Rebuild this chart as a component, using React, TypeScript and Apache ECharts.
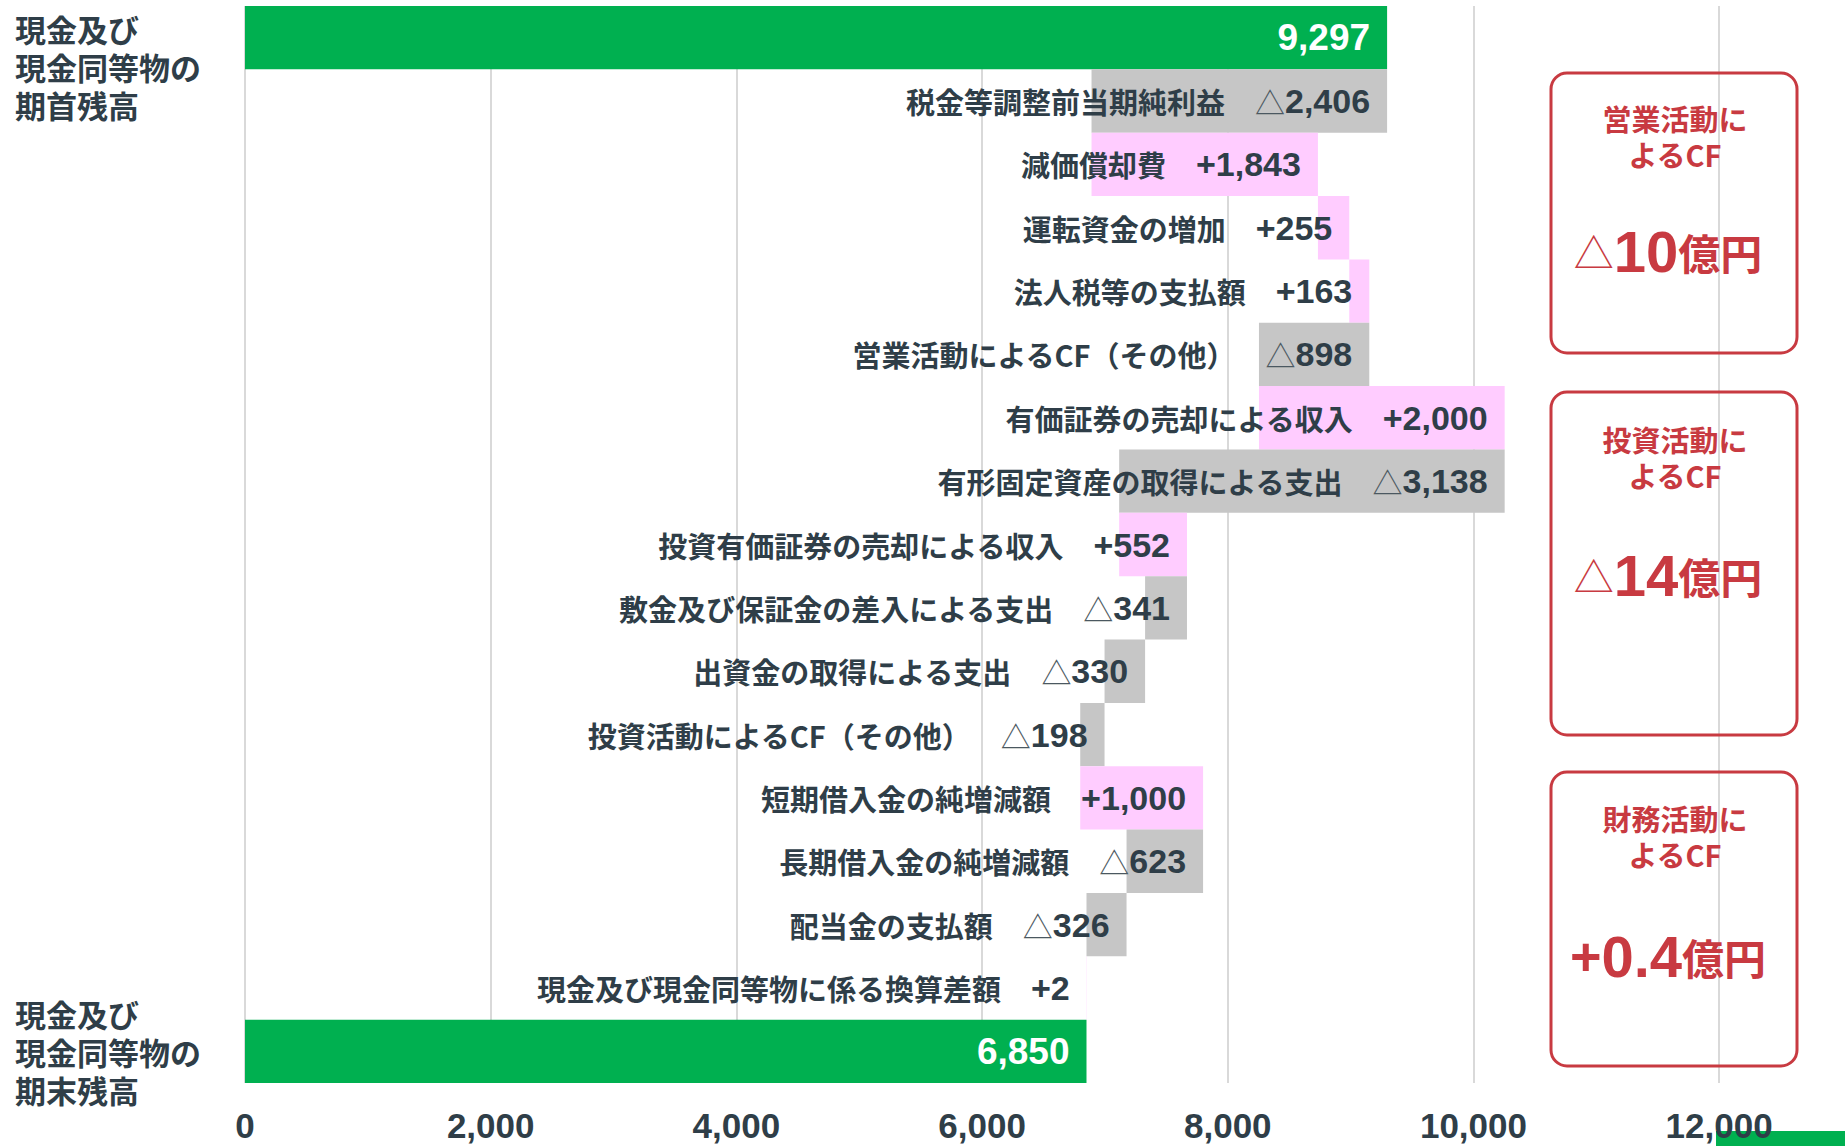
import React, { useEffect, useRef } from "react";
import * as echarts from "echarts";

const categories = [
  "期首残高",
  "税金等調整前当期純利益",
  "減価償却費",
  "運転資金の増加",
  "法人税等の支払額",
  "営業活動によるCF（その他）",
  "有価証券の売却による収入",
  "有形固定資産の取得による支出",
  "投資有価証券の売却による収入",
  "敷金及び保証金の差入による支出",
  "出資金の取得による支出",
  "投資活動によるCF（その他）",
  "短期借入金の純増減額",
  "長期借入金の純増減額",
  "配当金の支払額",
  "現金及び現金同等物に係る換算差額",
  "期末残高",
];
const balanceLines = [
  ["現金及び", "現金同等物の", "期首残高"],
  ["現金及び", "現金同等物の", "期末残高"],
];
const openingBalance = 9297;
const closingBalance = 6850;
const changes = [-2406, 1843, 255, 163, -898, 2000, -3138, 552, -341, -330, -198, 1000, -623, -326, 2];
const xTicks = [0, 2000, 4000, 6000, 8000, 10000, 12000];

const boxTitleLine1 = ["営業活動に", "投資活動に", "財務活動に"];
const boxTitleLine2 = ["よるCF", "よるCF", "よるCF"];
const boxSigns = ["△", "△", "+"];
const boxAmounts = ["10", "14", "0.4"];

const GREEN = "#00b050";
const PINK = "#ffccff";
const GRAY = "#c6c6c6";
const TEXT = "#2f3e48";
const RED = "#c83a41";
const CJK = "'Noto Sans CJK JP', sans-serif";
const LATIN = "'Liberation Sans', Arial, sans-serif";

const fmt = (v: number) => Math.abs(v).toLocaleString("en-US");

export default function App() {
  const ref = useRef<HTMLDivElement>(null);
  useEffect(() => {
    if (!ref.current) return;
    const chart = echarts.init(ref.current, null, { renderer: "svg" });

    const bases: number[] = [];
    const heights: number[] = [];
    const colors: string[] = [];
    bases.push(0);
    heights.push(openingBalance);
    colors.push(GREEN);
    let run = openingBalance;
    changes.forEach((c) => {
      const next = run + c;
      bases.push(Math.min(run, next));
      heights.push(Math.abs(c));
      colors.push(c >= 0 ? PINK : GRAY);
      run = next;
    });
    bases.push(0);
    heights.push(closingBalance);
    colors.push(GREEN);

    const last = categories.length - 1;

    const boxTops = [73, 392, 772];
    const boxHeights = [280, 343, 294];
    const line1Ys = [118, 439, 818];
    const bigYs = [251, 575, 956];

    const titleStyle = {
      fill: RED,
      fontFamily: CJK,
      fontWeight: "bold",
      fontSize: 29,
      align: "center",
      verticalAlign: "middle",
    };

    const graphics: any[] = [];
    boxTops.forEach((top, i) => {
      graphics.push({
        type: "rect",
        shape: { x: 1551, y: top, width: 246, height: boxHeights[i], r: 16 },
        style: { fill: "rgba(255,255,255,0)", stroke: RED, lineWidth: 3 },
        z: 10,
      });
      graphics.push({
        type: "text",
        x: 1675,
        y: line1Ys[i],
        z: 11,
        style: { ...titleStyle, text: boxTitleLine1[i] },
      });
      graphics.push({
        type: "text",
        x: 1675,
        y: line1Ys[i] + 36,
        z: 11,
        style: { ...titleStyle, text: boxTitleLine2[i] },
      });
      graphics.push({
        type: "text",
        x: 1668,
        y: bigYs[i],
        z: 11,
        style: {
          text:
            (boxSigns[i] === "△" ? "{s|△}" : "{p|+}") +
            "{n|" + boxAmounts[i] + "}{u|億円}",
          align: "center",
          verticalAlign: "middle",
          rich: {
            s: { fontFamily: CJK, fontSize: 40, fontWeight: "normal", fill: RED, color: RED },
            p: { fontFamily: LATIN, fontSize: 54, fontWeight: "bold", fill: RED, color: RED },
            n: { fontFamily: LATIN, fontSize: 58, fontWeight: "bold", fill: RED, color: RED },
            u: { fontFamily: CJK, fontSize: 42, fontWeight: "bold", fill: RED, color: RED },
          },
        },
      });
    });
    graphics.push({
      type: "rect",
      shape: { x: 1716, y: 1131, width: 129, height: 15 },
      style: { fill: GREEN },
    });

    chart.setOption({
      animation: false,
      grid: {
        left: 245,
        right: 3,
        top: 6,
        bottom: 63,
        containLabel: false,
        outerBoundsMode: "none",
      },
      xAxis: {
        type: "value",
        min: 0,
        max: 13000,
        interval: 2000,
        axisLine: { show: false },
        axisTick: { show: false },
        axisLabel: {
          margin: 25,
          fontFamily: LATIN,
          fontWeight: "bold",
          fontSize: 35,
          lineHeight: 34,
          color: TEXT,
          formatter: (v: number) => (xTicks.indexOf(v) >= 0 ? v.toLocaleString("en-US") : ""),
        },
        splitLine: {
          lineStyle: {
            color: ["#d9d9d9", "#d9d9d9", "#d9d9d9", "#d9d9d9", "#d9d9d9", "#d9d9d9", "#d9d9d9", "rgba(0,0,0,0)"],
            width: 2,
          },
        },
      },
      yAxis: {
        type: "category",
        inverse: true,
        data: categories,
        axisLine: { show: false },
        axisTick: { show: false },
        axisLabel: {
          interval: 0,
          margin: 230,
          align: "left",
          fontFamily: CJK,
          fontWeight: "bold",
          fontSize: 31,
          lineHeight: 38,
          color: TEXT,
          formatter: (v: string) => {
            if (v === categories[0])
              return "{sp| }\n" + balanceLines[0].map((l) => "{a|" + l + "}").join("\n");
            if (v === categories[last])
              return balanceLines[1].map((l) => "{a|" + l + "}").join("\n");
            return "";
          },
          rich: {
            sp: { fontSize: 10, lineHeight: 58 },
            a: {
              fontFamily: CJK,
              fontWeight: "bold",
              fontSize: 31,
              lineHeight: 38,
              color: TEXT,
            },
          },
        },
        splitLine: { show: false },
      },
      series: [
        {
          type: "bar",
          stack: "wf",
          barCategoryGap: 0,
          itemStyle: { color: "rgba(0,0,0,0)" },
          emphasis: { disabled: true },
          data: bases,
          silent: true,
        },
        {
          type: "bar",
          stack: "wf",
          barCategoryGap: 0,
          data: heights.map((h, i) => ({ value: h, itemStyle: { color: colors[i] } })),
          label: {
            show: true,
            position: "insideRight",
            distance: 17,
            formatter: (p: any) => {
              const i = p.dataIndex;
              if (i === 0) return "{w|" + fmt(openingBalance) + "}";
              if (i === last) return "{w|" + fmt(closingBalance) + "}";
              const c = changes[i - 1];
              const val = c < 0 ? "{t|△}{v|" + fmt(c) + "}" : "{v|+" + fmt(c) + "}";
              return "{n|" + categories[i] + "}" + val;
            },
            rich: {
              n: { fontFamily: CJK, fontSize: 29, fontWeight: "bold", color: TEXT, padding: [0, 30, 0, 0] },
              t: { fontFamily: CJK, fontSize: 30, fontWeight: "normal", color: "#4b5861" },
              v: { fontFamily: LATIN, fontSize: 34, fontWeight: "bold", color: TEXT },
              w: { fontFamily: LATIN, fontSize: 37, fontWeight: "bold", color: "#ffffff" },
            },
          },
        },
      ],
      graphic: graphics,
    });
    return () => chart.dispose();
  }, []);
  return (
    <div
      ref={ref}
      style={{ position: "fixed", left: 0, top: 0, width: 1845, height: 1146, background: "#ffffff" }}
    />
  );
}
